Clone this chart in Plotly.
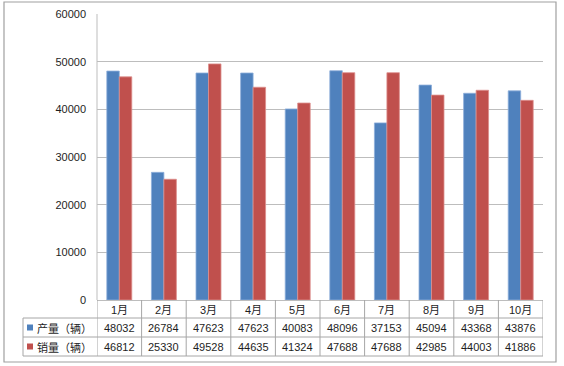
import plotly.graph_objects as go

months = ["1月", "2月", "3月", "4月", "5月", "6月", "7月", "8月", "9月", "10月"]
production = [48032, 26784, 47623, 47623, 40083, 48096, 37153, 45094, 43368, 43876]
sales = [46812, 25330, 49528, 44635, 41324, 47688, 47688, 42985, 44003, 41886]
series_names = ["产量（辆）", "销量（辆）"]
y_ticks = [0, 10000, 20000, 30000, 40000, 50000, 60000]

W, H = 564, 366
L, R, T, B = 97, 543, 14, 300
pw, ph = R - L, B - T

def px(x):
    return (x - L) / pw

def py(y):
    return (B - y) / ph

BLUE = "#4f81bd"
RED = "#c0504d"
GRID = "#bdbdbd"
TBL = "#a6a6a6"
TXT = "#1e1e1e"
FONT = "Liberation Sans, Noto Sans CJK SC, sans-serif"

xs = list(range(len(months)))

fig = go.Figure()
fig.add_trace(go.Bar(x=xs, y=production, name=series_names[0],
                     marker=dict(color=BLUE, line=dict(color="#8eaedb", width=0.8))))
fig.add_trace(go.Bar(x=xs, y=sales, name=series_names[1],
                     marker=dict(color=RED, line=dict(color="#dd8f8d", width=0.8))))

shapes = []
# outer chart border
shapes.append(dict(type="rect", xref="paper", yref="paper",
                   x0=px(4), x1=px(556), y0=py(362), y1=py(2),
                   line=dict(color="#a0a0a0", width=1.2), layer="below"))
# plot left border
shapes.append(dict(type="line", xref="paper", yref="paper",
                   x0=0, x1=0, y0=0, y1=1, line=dict(color=GRID, width=1)))

y_hdr, y_r1, y_r2, y_end = 300, 318, 337, 356
x_lab = 23
def line(x0, y0, x1, y1, xref="paper"):
    shapes.append(dict(type="line", xref=xref, yref="paper",
                       x0=x0, x1=x1, y0=py(y0), y1=py(y1),
                       line=dict(color=TBL, width=1)))

# horizontal table lines
line(px(x_lab), y_r1, 1, y_r1)
line(px(x_lab), y_r2, 1, y_r2)
line(px(x_lab), y_end, 1, y_end)
line(px(x_lab), y_r1, px(x_lab), y_end)
# vertical lines at category boundaries
for i in range(len(months) + 1):
    line(i - 0.5, y_hdr, i - 0.5, y_end, xref="x")

def cell(x, yc, text, xref="x", xanchor="center"):
    return dict(x=x, y=py(yc), xref=xref, yref="paper", xanchor=xanchor, yanchor="middle",
                text=text, showarrow=False, font=dict(size=11, color=TXT, family=FONT))

annotations = []
for i, m in enumerate(months):
    annotations.append(cell(i, (y_hdr + y_r1) / 2 + 0.5, m))
    annotations.append(cell(i, (y_r1 + y_r2) / 2 + 0.5, str(production[i])))
    annotations.append(cell(i, (y_r2 + y_end) / 2 + 0.5, str(sales[i])))

for k, (name, col) in enumerate(zip(series_names, [BLUE, RED])):
    cy = (y_r1 + y_r2) / 2 if k == 0 else (y_r2 + y_end) / 2
    shapes.append(dict(type="rect", xref="paper", yref="paper",
                       x0=px(27), x1=px(33), y0=py(cy + 3), y1=py(cy - 3),
                       fillcolor=col, line=dict(width=0)))
    annotations.append(cell(px(35), cy + 0.5, name, xref="paper", xanchor="left"))

fig.update_layout(
    template="none",
    width=W, height=H,
    margin=dict(l=L, r=W - R, t=T, b=H - B, pad=0, autoexpand=False),
    paper_bgcolor="white", plot_bgcolor="white",
    barmode="group", bargap=0.44, bargroupgap=0,
    showlegend=False,
    shapes=shapes, annotations=annotations,
    font=dict(family=FONT, size=11, color=TXT),
    xaxis=dict(range=[-0.5, len(months) - 0.5], showticklabels=False, showgrid=False,
               zeroline=False, showline=True, linecolor=GRID, linewidth=1, ticks="",
               automargin=False),
    yaxis=dict(range=[0, 60000], tickvals=y_ticks, ticktext=[str(v) for v in y_ticks],
               showgrid=True, gridcolor=GRID, gridwidth=1.3, zeroline=False,
               showline=False, ticks="", ticklabelstandoff=10, automargin=False,
               tickfont=dict(size=11, color=TXT, family=FONT)),
)

fig.write_html("out.html", config={"displayModeBar": False},
               post_script="document.body.style.margin='0';")
